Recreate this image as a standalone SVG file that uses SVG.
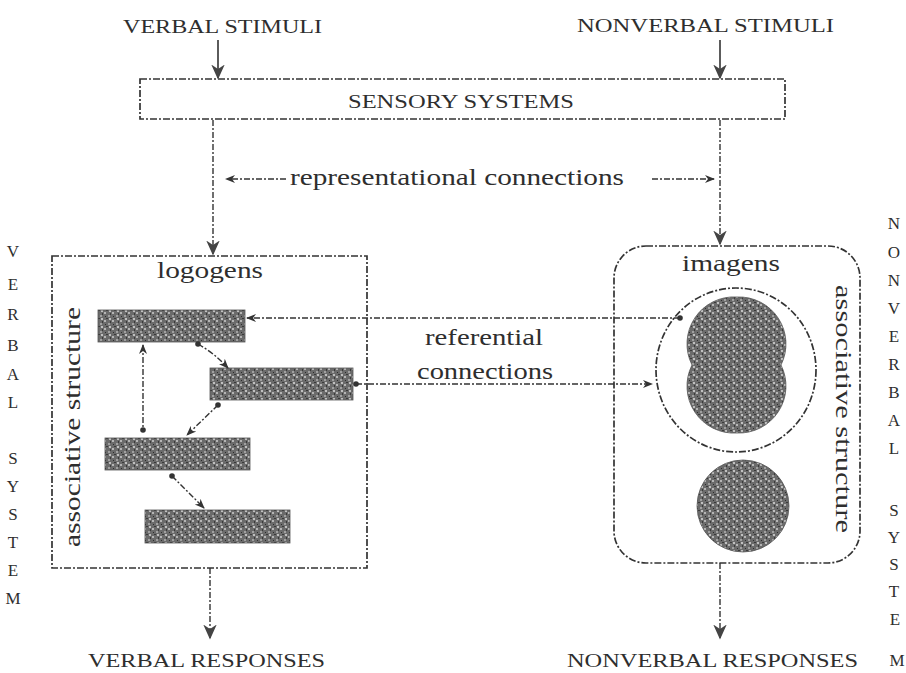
<svg xmlns="http://www.w3.org/2000/svg" width="906" height="673" viewBox="0 0 906 673">
<style>
text{font-family:"Liberation Serif","Times New Roman",serif;fill:#2e2e2e}
.cap{font-size:19px}
.lbl{font-size:23px}
.vl{font-size:17px;text-anchor:middle}
.box{fill:none;stroke:#333;stroke-width:1.7;stroke-dasharray:7 2 2 2}
.con{fill:none;stroke:#333;stroke-width:1.4;stroke-dasharray:6 2 2 2}
.sol{fill:none;stroke:#333;stroke-width:1.6}
.blk{fill:url(#tex);stroke:#555;stroke-width:0.8}
</style>
<defs>
<pattern id="tex" width="8" height="8" patternUnits="userSpaceOnUse">
<rect width="8" height="8" fill="#6b6b6b"/>
<rect x="0" y="0" width="2" height="2" fill="#b5b5b5"/>
<rect x="4" y="3" width="2" height="2" fill="#a0a0a0"/>
<rect x="2" y="6" width="2" height="1" fill="#3a3a3a"/>
<rect x="6" y="1" width="1" height="2" fill="#3a3a3a"/>
<rect x="5" y="6" width="2" height="2" fill="#c0c0c0"/>
<rect x="1" y="4" width="1" height="1" fill="#2e2e2e"/>
</pattern>
<marker id="ah" viewBox="0 0 10 10" refX="9" refY="5" markerWidth="10" markerHeight="10" orient="auto-start-reverse" markerUnits="userSpaceOnUse">
<path d="M0,1 L10,5 L0,9 L3,5 Z" fill="#333"/>
</marker>
<marker id="bh" viewBox="0 0 10 10" refX="9" refY="5" markerWidth="15" markerHeight="15" orient="auto" markerUnits="userSpaceOnUse">
<path d="M0,0.5 L10,5 L0,9.5 L3,5 Z" fill="#444"/>
</marker>
<marker id="dot" viewBox="0 0 10 10" refX="5" refY="5" markerWidth="7" markerHeight="7" markerUnits="userSpaceOnUse">
<circle cx="5" cy="5" r="4" fill="#333"/>
</marker>
</defs>
<rect width="906" height="673" fill="#fff"/>

<g id="labels">
<text class="cap" x="123" y="33" textLength="199" lengthAdjust="spacingAndGlyphs">VERBAL STIMULI</text>
<text class="cap" x="577" y="32" textLength="257" lengthAdjust="spacingAndGlyphs">NONVERBAL STIMULI</text>
<text class="cap" x="88" y="667" textLength="237" lengthAdjust="spacingAndGlyphs">VERBAL RESPONSES</text>
<text class="cap" x="567" y="667" textLength="291" lengthAdjust="spacingAndGlyphs">NONVERBAL RESPONSES</text>
</g>

<g id="verbal-system-label">
<text class="vl" x="13" y="257">V</text>
<text class="vl" x="13" y="290">E</text>
<text class="vl" x="13" y="320">R</text>
<text class="vl" x="13" y="351">B</text>
<text class="vl" x="13" y="380">A</text>
<text class="vl" x="13" y="408">L</text>
<text class="vl" x="13" y="464">S</text>
<text class="vl" x="13" y="492">Y</text>
<text class="vl" x="13" y="520">S</text>
<text class="vl" x="13" y="548">T</text>
<text class="vl" x="13" y="576">E</text>
<text class="vl" x="13" y="604">M</text>
</g>

<g id="nonverbal-system-label">
<text class="vl" x="894" y="229">N</text>
<text class="vl" x="894" y="258">O</text>
<text class="vl" x="894" y="286">N</text>
<text class="vl" x="894" y="314">V</text>
<text class="vl" x="894" y="342">E</text>
<text class="vl" x="894" y="370">R</text>
<text class="vl" x="894" y="398">B</text>
<text class="vl" x="894" y="426">A</text>
<text class="vl" x="894" y="454">L</text>
<text class="vl" x="894" y="516">S</text>
<text class="vl" x="894" y="543">Y</text>
<text class="vl" x="894" y="570">S</text>
<text class="vl" x="894" y="597">T</text>
<text class="vl" x="895" y="625">E</text>
<text class="vl" x="897" y="666">M</text>
</g>

<g id="sensory-systems">
<rect class="box" x="140" y="79" width="645" height="40"/>
<text class="cap" x="348" y="108" textLength="226" lengthAdjust="spacingAndGlyphs">SENSORY SYSTEMS</text>
</g>

<g id="logogens">
<rect class="box" x="52" y="256" width="315" height="312"/>
<text class="lbl" x="157" y="278" textLength="106" lengthAdjust="spacingAndGlyphs">logogens</text>
<text class="lbl" transform="translate(80,547) rotate(-90)" textLength="240" lengthAdjust="spacingAndGlyphs">associative structure</text>
<rect class="blk" x="98" y="310" width="147" height="32"/>
<rect class="blk" x="210" y="368" width="143" height="32"/>
<rect class="blk" x="105" y="438" width="145" height="32"/>
<rect class="blk" x="145" y="510" width="145" height="33"/>
</g>

<g id="imagens">
<rect class="box" x="614" y="246" width="246" height="317" rx="32"/>
<text class="lbl" x="682" y="271" textLength="98" lengthAdjust="spacingAndGlyphs">imagens</text>
<text class="lbl" transform="translate(836,285) rotate(90)" textLength="248" lengthAdjust="spacingAndGlyphs">associative structure</text>
<ellipse class="box" cx="736" cy="370" rx="80" ry="82"/>
<path d="M737,297 A47,47 0 0 1 781,365 A47,47 0 0 1 737,433 A47,47 0 0 1 692,365 A47,47 0 0 1 737,297 Z" fill="url(#tex)" stroke="#555" stroke-width="0.8"/>
<circle cx="743" cy="506" r="46" fill="url(#tex)" stroke="#555" stroke-width="0.8"/>
</g>

<g id="connectors">
<line class="sol" x1="218" y1="40" x2="218" y2="78" marker-end="url(#bh)"/>
<line class="sol" x1="720" y1="40" x2="720" y2="78" marker-end="url(#bh)"/>
<line class="con" x1="213" y1="120" x2="213" y2="254" marker-end="url(#bh)"/>
<line class="con" x1="720" y1="120" x2="720" y2="244" marker-end="url(#bh)"/>
<line class="con" x1="286" y1="179" x2="226" y2="179" marker-end="url(#ah)"/>
<line class="con" x1="652" y1="179" x2="714" y2="179" marker-end="url(#ah)"/>
<text class="lbl" x="290" y="185" textLength="334" lengthAdjust="spacingAndGlyphs">representational connections</text>

<line class="con" x1="680" y1="318" x2="247" y2="318" marker-end="url(#ah)" marker-start="url(#dot)"/>
<line class="con" x1="356" y1="384" x2="652" y2="384" marker-end="url(#ah)" marker-start="url(#dot)"/>
<text class="lbl" x="425" y="345" textLength="118" lengthAdjust="spacingAndGlyphs">referential</text>
<text class="lbl" x="417" y="379" textLength="136" lengthAdjust="spacingAndGlyphs">connections</text>

<line class="con" x1="143" y1="345" x2="143" y2="430" marker-start="url(#ah)" marker-end="url(#dot)"/>
<path class="con" d="M198,344 Q214,353 228,368" marker-start="url(#dot)" marker-end="url(#ah)"/>
<line class="con" x1="218" y1="405" x2="187" y2="435" marker-start="url(#dot)" marker-end="url(#ah)"/>
<line class="con" x1="172" y1="476" x2="204" y2="508" marker-start="url(#dot)" marker-end="url(#ah)"/>

<line class="con" x1="210" y1="568" x2="210" y2="638" marker-end="url(#bh)"/>
<line class="con" x1="720" y1="563" x2="720" y2="638" marker-end="url(#bh)"/>
</g>
</svg>
